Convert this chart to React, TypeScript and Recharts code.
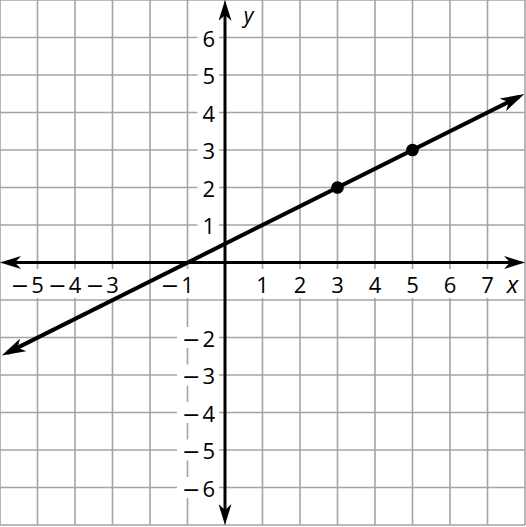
import { ComposedChart, XAxis, YAxis, CartesianGrid, Scatter, ReferenceLine } from 'recharts';

// grid runs one unit apart over the whole picture
const gridX = [-6, -5, -4, -3, -2, -1, 0, 1, 2, 3, 4, 5, 6, 7, 8];
const gridY = [-7, -6, -5, -4, -3, -2, -1, 0, 1, 2, 3, 4, 5, 6, 7];

// numbers printed next to the axes (-2 on x and -1 on y are left out where the line crosses)
const xTickValues = [-5, -4, -3, -1, 1, 2, 3, 4, 5, 6, 7];
const yTickValues = [6, 5, 4, 3, 2, 1, -2, -3, -4, -5, -6];

// drawn line, from the lower-left arrow to the upper-right arrow
const lineX = [-5.81, 7.84];
const lineY = [-2.41, 4.42];

// marked points
const pointX = [3, 5];
const pointY = [2, 3];

const lineSegment = lineX.map((x, i) => ({ x, y: lineY[i] }));
const pointData = pointX.map((x, i) => ({ x, y: pointY[i] }));
const xLabelData = xTickValues.map((v) => ({ x: v, y: 0, value: v }));
const yLabelData = yTickValues.map((v) => ({ x: 0, y: v, value: v }));

const FONT = '"Open Sans", sans-serif';
const GRID_COLOR = '#a4a4a4';

const Label = ({ value }: { value: number }) => (
  <>
    {value < 0 && <tspan fontFamily="DejaVu Sans">−</tspan>}
    <tspan dx={value < 0 ? 2 : 0}>{Math.abs(value)}</tspan>
  </>
);

const XTickLabel = (props: any) => {
  const { cx, cy, payload } = props;
  return (
    <g>
      <rect x={cx - 8} y={cy + 6.5} width={16} height={29} fill="#fff" />
      <text x={cx + 6.3} y={cy + 30.5} textAnchor="end" fontFamily={FONT} fontSize={22} fill="#000">
        <Label value={payload.value} />
      </text>
    </g>
  );
};

const YTickLabel = (props: any) => {
  const { cx, cy, payload } = props;
  const textW = payload.value < 0 ? 33 : 12.6;
  const right = cx - 10;
  return (
    <g>
      <rect x={right - textW - 5} y={cy - 10.5} width={textW + 9} height={21} fill="#fff" />
      <text x={right} y={cy + 9} textAnchor="end" fontFamily={FONT} fontSize={22} fill="#000">
        <Label value={payload.value} />
      </text>
    </g>
  );
};

const Dot = (props: any) => <circle cx={props.cx} cy={props.cy} r={6.3} fill="#000" />;

// line pulled in a little at each end so the arrowheads keep a sharp tip
const arrowLine = (marker: string, width: number, pull: number) => (props: any) => {
  const { x1, y1, x2, y2 } = props;
  const len = Math.hypot(x2 - x1, y2 - y1);
  const ux = (x2 - x1) / len;
  const uy = (y2 - y1) / len;
  return (
    <line
      x1={x1 + ux * pull}
      y1={y1 + uy * pull}
      x2={x2 - ux * pull}
      y2={y2 - uy * pull}
      stroke="#000"
      strokeWidth={width}
      markerStart={`url(#${marker})`}
      markerEnd={`url(#${marker})`}
    />
  );
};

const axisShape = (name: string, nameDx: number, nameDy: number) => {
  const draw = arrowLine('axisArrow', 3, 6);
  return (props: any) => {
    const { x1, y1, x2, y2 } = props;
    const isX = Math.abs(y2 - y1) < 1;
    const endX = isX ? Math.max(x1, x2) : x1;
    const endY = isX ? y1 : Math.min(y1, y2);
    return (
      <g>
        {draw(props)}
        <text
          x={endX + nameDx}
          y={endY + nameDy}
          textAnchor="middle"
          fontFamily={FONT}
          fontStyle="italic"
          fontSize={isX ? 24 : 21}
          fill="#000"
        >
          {name}
        </text>
      </g>
    );
  };
};

const App = () => {
  return (
    <div style={{ position: 'fixed', left: 0, top: 0, width: 526, height: 527, background: '#fff' }}>
      <ComposedChart width={526} height={527} margin={{ top: 0, right: 1, bottom: 2, left: 0 }}>
        <defs>
          <marker
            id="axisArrow"
            viewBox="0 0 21 13"
            markerWidth={21}
            markerHeight={13}
            refX={15}
            refY={6.5}
            orient="auto-start-reverse"
            markerUnits="userSpaceOnUse"
          >
            <path d="M0,0 L21,6.5 L0,13 L6,6.5 Z" fill="#000" />
          </marker>
          <marker
            id="lineArrow"
            viewBox="0 0 24 14"
            markerWidth={24}
            markerHeight={14}
            refX={18}
            refY={7}
            orient="auto-start-reverse"
            markerUnits="userSpaceOnUse"
          >
            <path d="M0,0 L24,7 L0,14 L6.5,7 Z" fill="#000" />
          </marker>
        </defs>
        <XAxis type="number" dataKey="x" domain={[-6, 8]} ticks={gridX} hide allowDataOverflow />
        <YAxis type="number" dataKey="y" domain={[-7, 7]} ticks={gridY} hide allowDataOverflow />
        <CartesianGrid stroke={GRID_COLOR} strokeWidth={1.6} />
        <Scatter data={xLabelData} shape={XTickLabel} isAnimationActive={false} zIndex={-10} />
        <Scatter data={yLabelData} shape={YTickLabel} isAnimationActive={false} zIndex={-10} />
        <ReferenceLine y={0} shape={axisShape('x', -12.5, 30.5)} />
        <ReferenceLine x={0} shape={axisShape('y', 23.5, 22.5)} />
        <ReferenceLine segment={lineSegment} shape={arrowLine('lineArrow', 4, 0)} zIndex={450} />
        <Scatter data={pointData} shape={Dot} isAnimationActive={false} />
      </ComposedChart>
    </div>
  );
};

export default App;
